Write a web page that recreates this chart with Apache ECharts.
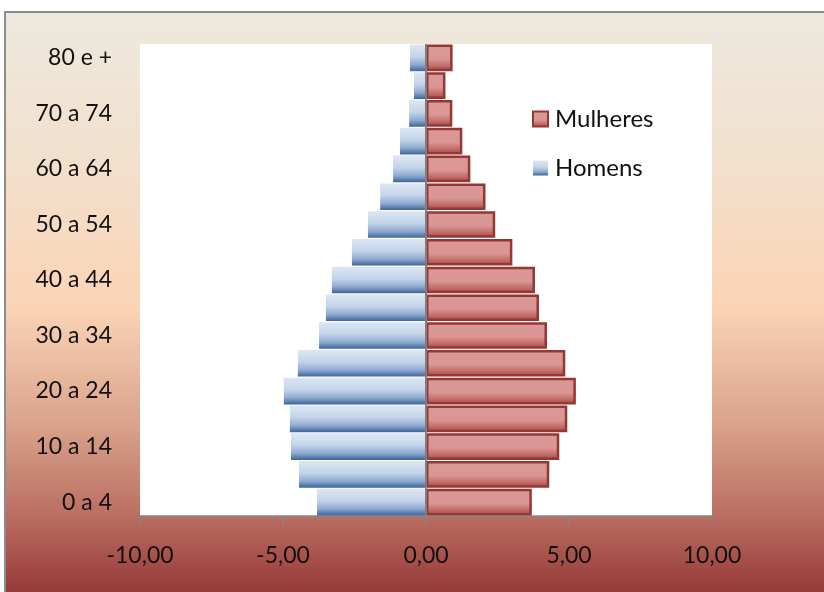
<!DOCTYPE html>
<html>
<head>
<meta charset="utf-8">
<script src="https://cdn.jsdelivr.net/npm/echarts@6/dist/echarts.min.js"></script>
<style>
html,body{margin:0;padding:0;background:#fff;}
#chart{width:824px;height:592px;}
</style>
</head>
<body>
<div id="chart"></div>
<script>
const categories = ['0 a 4','5 a 9','10 a 14','15 a 19','20 a 24','25 a 29','30 a 34','35 a 39','40 a 44','45 a 49','50 a 54','55 a 59','60 a 64','65 a 69','70 a 74','75 a 79','80 e +'];
const homens = [3.81,4.44,4.72,4.76,4.97,4.48,3.74,3.50,3.29,2.59,2.03,1.60,1.15,0.91,0.59,0.42,0.56];
const mulheres = [3.70,4.31,4.66,4.94,5.24,4.87,4.23,3.95,3.81,3.02,2.42,2.08,1.55,1.27,0.92,0.68,0.93];
const xTicks = {min:-10, max:10, interval:5};

const FONT = 'Lato';
const chart = echarts.init(document.getElementById('chart'));
const LG = echarts.graphic.LinearGradient;

const menFill = new LG(0,0,0,1,[
  {offset:0,color:'#DDE7F3'},
  {offset:0.45,color:'#C3D4E9'},
  {offset:0.75,color:'#8FAAD0'},
  {offset:1,color:'#3C6499'}
]);
const womenFill = new LG(0,0,0,1,[
  {offset:0,color:'#DA9896'},
  {offset:0.55,color:'#D99694'},
  {offset:0.8,color:'#C26C69'},
  {offset:1,color:'#A4413F'}
]);

chart.setOption({
  animation:false,
  backgroundColor:'#ffffff',
  graphic:{elements:[{
    type:'rect', z:-100, silent:true,
    shape:{x:5,y:12,width:840,height:590},
    style:{
      fill:new LG(0,0,0,1,[
        {offset:0,color:'#EDE9DE'},
        {offset:0.25,color:'#F2E0CD'},
        {offset:0.5,color:'#FBD4B6'},
        {offset:0.7,color:'#D9A28B'},
        {offset:0.85,color:'#BB6F63'},
        {offset:0.985,color:'#953838'},
        {offset:1,color:'#953838'}
      ]),
      stroke:'#8C8C8C', lineWidth:2
    }
  }]},
  grid:{left:140,right:112,top:44,bottom:76,show:true,backgroundColor:'#ffffff',borderWidth:0},
  legend:{
    orient:'vertical', left:527, top:102, itemGap:25,
    itemWidth:15, itemHeight:15, icon:'rect',
    textStyle:{fontFamily:FONT,fontSize:24,color:'#111',padding:[0,0,0,2]},
    data:['Mulheres','Homens']
  },
  xAxis:{
    type:'value', min:xTicks.min, max:xTicks.max, interval:xTicks.interval,
    axisLine:{show:true,onZero:false,lineStyle:{color:'#868686',width:1.5}},
    axisTick:{show:true,length:9,lineStyle:{color:'#868686',width:1.5}},
    splitLine:{show:false},
    axisLabel:{fontFamily:FONT,fontSize:23,color:'#111',margin:28,
      formatter:v=>v.toFixed(2).replace('.',',')}
  },
  yAxis:{
    type:'category', data:categories,
    axisLine:{show:false}, axisTick:{show:false},
    axisLabel:{interval:1,fontFamily:FONT,fontSize:23,color:'#111',margin:28}
  },
  series:[
    {
      name:'Homens', type:'bar',
      data:homens.map(v=>-v),
      barGap:'-100%', barCategoryGap:'4%',
      itemStyle:{color:menFill},
      markLine:{
        silent:true, symbol:'none', label:{show:false},
        lineStyle:{color:'#7F7F7F',width:2,type:'solid'},
        data:[{xAxis:0}]
      },
      z:2
    },
    {
      name:'Mulheres', type:'bar',
      data:mulheres,
      barGap:'-100%', barCategoryGap:'4%',
      itemStyle:{color:womenFill,borderColor:'#953735',borderWidth:2.5},
      z:3
    }
  ]
});
</script>
</body>
</html>
